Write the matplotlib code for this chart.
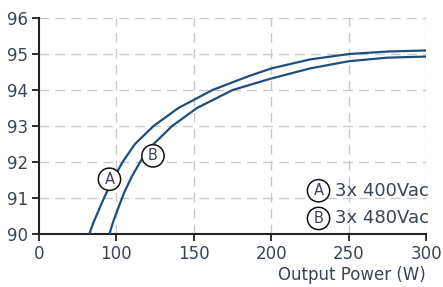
import matplotlib
matplotlib.use('Agg')
import matplotlib.pyplot as plt

plt.rcParams['font.family'] = ['DejaVu Sans']

# efficiency curves (W, %)
watt_a = [82.5, 85, 88, 92, 97, 104, 112, 124, 140, 162, 185, 200, 225, 250, 275, 300]
eff_a = [90.0, 90.3, 90.6, 91.0, 91.45, 92.0, 92.5, 93.0, 93.5, 94.0, 94.38, 94.6, 94.85, 95.0, 95.07, 95.1]
watt_b = [95.5, 98, 101, 105, 110, 116, 124, 136, 152, 175, 200, 225, 250, 275, 300]
eff_b = [90.0, 90.35, 90.7, 91.15, 91.6, 92.05, 92.5, 93.0, 93.5, 94.0, 94.32, 94.6, 94.8, 94.9, 94.93]

xticks = [50, 100, 150, 200, 250, 300]
xtick_labels = ['0', '100', '150', '200', '250', '300']
yticks = [90, 91, 92, 93, 94, 95, 96]
legend_labels = ['3x 400Vac', '3x 480Vac']

txt = '#3b4452'
line_col = '#1d4f7c'

fig = plt.figure(figsize=(4.43, 2.87), dpi=100)
ax = fig.add_axes([0.088, 0.185, 0.874, 0.752])

ax.plot(watt_a, eff_a, color=line_col, lw=1.6, zorder=3)
ax.plot(watt_b, eff_b, color=line_col, lw=1.6, zorder=3)

ax.set_xlim(50, 300)
ax.set_ylim(90, 96)
ax.set_xticks(xticks)
ax.set_xticklabels(xtick_labels)
ax.set_yticks(yticks)

for x in xticks[1:]:
    ax.axvline(x, color='#c8c8c8', lw=1, ls=(0, (7, 4.5)), zorder=1)
for y in yticks[1:]:
    ax.axhline(y, color='#c8c8c8', lw=1, ls=(0, (7, 4.5)), zorder=1)

for s in ['top', 'right']:
    ax.spines[s].set_visible(False)
for s in ['left', 'bottom']:
    ax.spines[s].set_linewidth(1.5)
    ax.spines[s].set_color('#222222')
ax.tick_params(length=5, width=1.3, color='#222222', labelsize=12, labelcolor=txt, pad=3)

circ = dict(boxstyle='circle,pad=0.25', fc='white', ec='#111111', lw=1.1)
ax.text(95.5, 91.52, 'A', ha='center', va='center', fontsize=10.5, color=txt, bbox=circ, zorder=4)
ax.text(123.6, 92.17, 'B', ha='center', va='center', fontsize=10.5, color=txt, bbox=circ, zorder=4)

for i, (lab, y) in enumerate(zip(legend_labels, [91.2, 90.43])):
    ax.text(230.5, y, 'AB'[i], ha='center', va='center', fontsize=10.5, color=txt, bbox=circ, zorder=4)
    ax.text(241, y, lab, ha='left', va='center', fontsize=13, color=txt, zorder=4)

ax.set_xlabel('Output Power (W)', fontsize=12, color=txt, loc='right', labelpad=2)

fig.savefig('out.png', dpi=100)
